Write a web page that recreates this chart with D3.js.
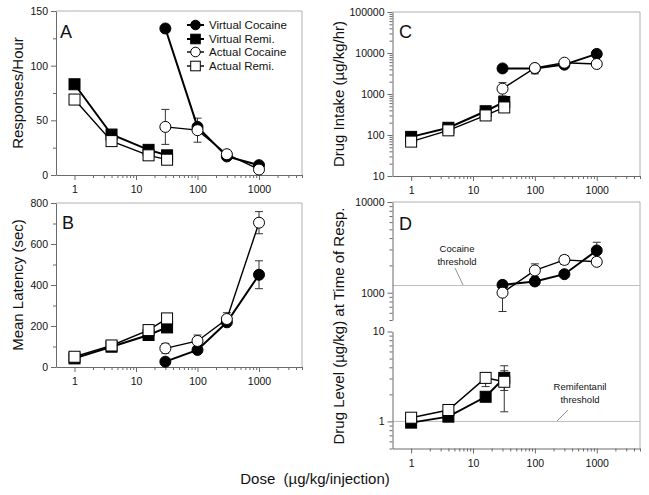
<!DOCTYPE html>
<html><head><meta charset="utf-8">
<script src="https://cdn.jsdelivr.net/npm/d3@7"></script>
<style>body{margin:0;background:#fff}svg{display:block}text{font-family:"Liberation Sans",Arial,sans-serif;fill:#111}</style>
</head><body><svg id="c" width="649" height="495"></svg>
<script>
// ---------- data ----------
const remiDoses = [1, 4, 16, 32];
const cocaineDoses = [30, 100, 300, 1000];
const xTickValues = [1, 10, 100, 1000];
const seriesNames = ["Virtual Cocaine", "Virtual Remi.", "Actual Cocaine", "Actual Remi."];
// Panel A: Responses/Hour
const aVirtualCocaine = [134, 44, 17, 9];
const aVirtualRemi = [83, 37, 23, 18];
const aActualCocaine = [44, 41, 19, 5];
const aActualRemi = [69, 31, 18, 14];
const aActualCocaineErr = [[28, 60], [30, 52], null, null];
const aYTicks = [0, 50, 100, 150];
const aYMinor = [25, 75, 125];
// Panel B: Mean Latency
const bVirtualCocaine = [26, 83, 218, 450];
const bVirtualRemi = [42, 99, 156, 193];
const bActualCocaine = [91, 127, 234, 704];
const bActualRemi = [50, 105, 180, 237];
const bVirtualCocaineErr = [null, null, null, [382, 518]];
const bActualCocaineErr = [[67, 115], [100, 156], [205, 265], [650, 758]];
const bYTicks = [0, 200, 400, 600, 800];
const bYMinor = [100, 300, 500, 700];
// Panel C: Drug Intake
const cVirtualCocaine = [4200, 4200, 5200, 9500];
const cVirtualRemi = [90, 150, 380, 640];
const cActualCocaine = [1350, 4300, 5800, 5400];
const cActualRemi = [69, 130, 300, 470];
const cActualCocaineErr = [[900, 1900], [3100, 4700], null, null];
const cYTicks = [10, 100, 1000, 10000, 100000];
// Panel D: Drug Level at time of response
const dVirtualCocaine = [1220, 1330, 1600, 2920];
const dActualCocaine = [1000, 1760, 2300, 2190];
const dVirtualRemi = [0.97, 1.13, 1.88, 3.05];
const dActualRemi = [1.1, 1.34, 3.05, 2.76];
const dVirtualCocaineErr = [[1100, 1350], null, null, [2450, 3600]];
const dActualCocaineErr = [[620, 1300], [1500, 2080], [2050, 2570], null];
const dVirtualRemiErr = [null, null, null, [1.28, 4.16]];
const dActualRemiErr = [null, null, [2.44, 3.43], [2.21, 3.66]];
const dUpperTicks = [1000, 10000];
const dLowerTicks = [1, 10];
const cocaineThreshold = 1200;
const remiThreshold = 1;

// ---------- drawing ----------
const svg = d3.select("#c");
const AX = "#6a6a6a", FR = "#b0b0b0";
const TICKFONT = 10.5;

function logMinor(lo, hi, minStart) {
  const out = [];
  for (let e = Math.floor(Math.log10(lo)); e <= Math.ceil(Math.log10(hi)); e++) {
    for (let m = 2; m < 10; m++) {
      const v = +(m * Math.pow(10, e)).toPrecision(6);
      if (v >= lo * 0.999 && v <= hi * 1.001 && (minStart === undefined || v >= minStart)) out.push(v);
    }
  }
  return out;
}
const xMinor = logMinor(0.5, 5000, 1);

function styleAxis(g, keepDomain) {
  g.selectAll("line").attr("stroke", AX);
  g.select(".domain").attr("stroke", AX);
  if (!keepDomain) g.select(".domain").remove();
  g.selectAll("text").attr("font-size", TICKFONT).attr("fill", "#111")
    .attr("font-family", '"Liberation Sans",Arial,sans-serif');
}

function xAxis(x, y0) {
  const g = svg.append("g").attr("transform", `translate(0,${y0})`);
  g.call(d3.axisBottom(x).tickValues(xTickValues).tickFormat(d3.format("d")).tickSize(5).tickSizeOuter(0).tickPadding(6));
  styleAxis(g, true);
  const m = svg.append("g").attr("transform", `translate(0,${y0})`);
  m.call(d3.axisBottom(x).tickValues(xMinor).tickFormat("").tickSize(3).tickSizeOuter(0));
  styleAxis(m, false);
}
function yAxis(y, x0, ticks, minor, fmt) {
  const g = svg.append("g").attr("transform", `translate(${x0},0)`);
  g.call(d3.axisLeft(y).tickValues(ticks).tickFormat(fmt).tickSize(5).tickSizeOuter(0).tickPadding(3));
  styleAxis(g, true);
  const m = svg.append("g").attr("transform", `translate(${x0},0)`);
  m.call(d3.axisLeft(y).tickValues(minor).tickFormat("").tickSize(3).tickSizeOuter(0));
  styleAxis(m, false);
}
function frame(x0, x1, yTop, yBot) {
  svg.append("line").attr("x1", x0).attr("x2", x1).attr("y1", yTop).attr("y2", yTop).attr("stroke", FR);
  svg.append("line").attr("x1", x1).attr("x2", x1).attr("y1", yTop).attr("y2", yBot).attr("stroke", FR);
}
function errBars(x, y, doses, errs) {
  doses.forEach((d, i) => {
    const e = errs[i]; if (!e) return;
    const cx = x(d), y1 = y(e[0]), y2 = y(e[1]);
    const g = svg.append("g").attr("stroke", "#333").attr("stroke-width", 1);
    g.append("line").attr("x1", cx).attr("x2", cx).attr("y1", y1).attr("y2", y2);
    g.append("line").attr("x1", cx - 4).attr("x2", cx + 4).attr("y1", y1).attr("y2", y1);
    g.append("line").attr("x1", cx - 4).attr("x2", cx + 4).attr("y1", y2).attr("y2", y2);
  });
}
function series(x, y, doses, vals, shape, filled) {
  const pts = doses.map((d, i) => [x(d), y(vals[i])]);
  svg.append("path").attr("d", d3.line()(pts)).attr("fill", "none")
    .attr("stroke", "#000").attr("stroke-width", filled ? 2 : 1.4);
  return pts;
}
function markers(pts, shape, filled) {
  pts.forEach(p => marker(p[0], p[1], shape, filled, 5.5));
}
function marker(cx, cy, shape, filled, r) {
  if (shape === "circle") {
    svg.append("circle").attr("cx", cx).attr("cy", cy).attr("r", r)
      .attr("fill", filled ? "#000" : "#fff").attr("stroke", "#000").attr("stroke-width", 1);
  } else {
    svg.append("rect").attr("x", cx - r).attr("y", cy - r).attr("width", 2 * r).attr("height", 2 * r)
      .attr("fill", filled ? "#000" : "#fff").attr("stroke", "#000").attr("stroke-width", 1);
  }
}
function drawSet(x, yC, yR, d) {
  // d: {vc, vr, ac, ar, vcErr, acErr, vrErr, arErr}
  if (d.vcErr) errBars(x, yC, cocaineDoses, d.vcErr);
  if (d.acErr) errBars(x, yC, cocaineDoses, d.acErr);
  if (d.vrErr) errBars(x, yR, remiDoses, d.vrErr);
  if (d.arErr) errBars(x, yR, remiDoses, d.arErr);
  const pAR = series(x, yR, remiDoses, d.ar, "square", false);
  const pVR = series(x, yR, remiDoses, d.vr, "square", true);
  const pAC = series(x, yC, cocaineDoses, d.ac, "circle", false);
  const pVC = series(x, yC, cocaineDoses, d.vc, "circle", true);
  if (d.order === "openTop") {
    markers(pVR, "square", true); markers(pAR, "square", false);
    markers(pVC, "circle", true); markers(pAC, "circle", false);
  } else {
    markers(pAR, "square", false); markers(pVR, "square", true);
    markers(pAC, "circle", false); markers(pVC, "circle", true);
  }
}
function panelLetter(t, x, y) {
  svg.append("text").attr("x", x).attr("y", y).attr("font-size", 18).text(t);
}
function yLabel(t, x, yc) {
  svg.append("text").attr("transform", `translate(${x},${yc}) rotate(-90)`)
    .attr("text-anchor", "middle").attr("font-size", 15).text(t);
}

const L = { x0: 56, x1: 302 }, R = { x0: 392.5, x1: 640 };
const xL = d3.scaleLog().domain([0.5, 5000]).range([L.x0, L.x1]);
const xR = d3.scaleLog().domain([0.5, 5000]).range([R.x0, R.x1]);

// ---- Panel A ----
const yA = d3.scaleLinear().domain([0, 150]).range([175, 11]);
frame(L.x0, L.x1, 11, 175);
xAxis(xL, 175);
yAxis(yA, L.x0, aYTicks, aYMinor, d3.format("d"));
drawSet(xL, yA, yA, { vc: aVirtualCocaine, vr: aVirtualRemi, ac: aActualCocaine, ar: aActualRemi, acErr: aActualCocaineErr, order: "openTop" });
panelLetter("A", 60, 38);
yLabel("Responses/Hour", 23, 93);
// legend
const legY = [25, 39, 52, 66];
const legShape = ["circle", "square", "circle", "square"];
const legFill = [true, true, false, false];
seriesNames.forEach((n, i) => {
  svg.append("line").attr("x1", 187).attr("x2", 204).attr("y1", legY[i]).attr("y2", legY[i])
    .attr("stroke", "#000").attr("stroke-width", legFill[i] ? 2 : 1.4);
  marker(195.5, legY[i], legShape[i], legFill[i], 4.8);
  svg.append("text").attr("x", 209).attr("y", legY[i] + 4).attr("font-size", 11.5).text(n);
});

// ---- Panel B ----
const yB = d3.scaleLinear().domain([0, 800]).range([367, 203]);
frame(L.x0, L.x1, 203, 367);
xAxis(xL, 367);
yAxis(yB, L.x0, bYTicks, bYMinor, d3.format("d"));
drawSet(xL, yB, yB, { vc: bVirtualCocaine, vr: bVirtualRemi, ac: bActualCocaine, ar: bActualRemi, vcErr: bVirtualCocaineErr, acErr: bActualCocaineErr, order: "openTop" });
panelLetter("B", 62, 229);
yLabel("Mean Latency (sec)", 23, 285);

// ---- Panel C ----
const yC = d3.scaleLog().domain([10, 100000]).range([176, 12]);
frame(R.x0, R.x1, 12, 176);
xAxis(xR, 176);
yAxis(yC, R.x0, cYTicks, logMinor(10, 100000), d3.format("d"));
drawSet(xR, yC, yC, { vc: cVirtualCocaine, vr: cVirtualRemi, ac: cActualCocaine, ar: cActualRemi, acErr: cActualCocaineErr, order: "openTop" });
panelLetter("C", 399, 38);
yLabel("Drug Intake (\u00b5g/kg/hr)", 344, 94);

// ---- Panel D ----
const yDU = d3.scaleLog().domain([500, 10000]).range([320, 202]);
const yDL = d3.scaleLog().domain([0.5, 10]).range([448.5, 331.5]);
frame(R.x0, R.x1, 202, 448.5);
// thresholds
svg.append("line").attr("x1", R.x0).attr("x2", R.x1).attr("y1", yDU(cocaineThreshold)).attr("y2", yDU(cocaineThreshold)).attr("stroke", "#bdbdbd");
svg.append("line").attr("x1", R.x0).attr("x2", R.x1).attr("y1", yDL(remiThreshold)).attr("y2", yDL(remiThreshold)).attr("stroke", "#bdbdbd");
xAxis(xR, 448.5);
yAxis(yDU, R.x0, dUpperTicks, logMinor(500, 10000), d3.format("d"));
yAxis(yDL, R.x0, dLowerTicks, logMinor(0.5, 10), d3.format("d"));
drawSet(xR, yDU, yDL, { vc: dVirtualCocaine, vr: dVirtualRemi, ac: dActualCocaine, ar: dActualRemi, vcErr: dVirtualCocaineErr, acErr: dActualCocaineErr, vrErr: dVirtualRemiErr, arErr: dActualRemiErr, order: "openTop" });
panelLetter("D", 399, 230);
yLabel("Drug Level (\u00b5g/kg) at Time of Resp.", 344, 326);
// annotations
function note(lines, cx, y0) {
  lines.forEach((t, i) => svg.append("text").attr("x", cx).attr("y", y0 + i * 12.5)
    .attr("text-anchor", "middle").attr("font-size", 9.5).text(t));
}
note(["Cocaine", "threshold"], 457, 252);
svg.append("line").attr("x1", 455).attr("y1", 268).attr("x2", 463).attr("y2", 285).attr("stroke", "#777").attr("stroke-width", 0.8);
note(["Remifentanil", "threshold"], 580, 390);
svg.append("line").attr("x1", 568).attr("y1", 410).attr("x2", 557).attr("y2", 421).attr("stroke", "#777").attr("stroke-width", 0.8);

// x title
svg.append("text").attr("x", 315).attr("y", 484).attr("text-anchor", "middle").attr("font-size", 15)
  .text("Dose\u00a0\u00a0(\u00b5g/kg/injection)");
</script></body></html>
